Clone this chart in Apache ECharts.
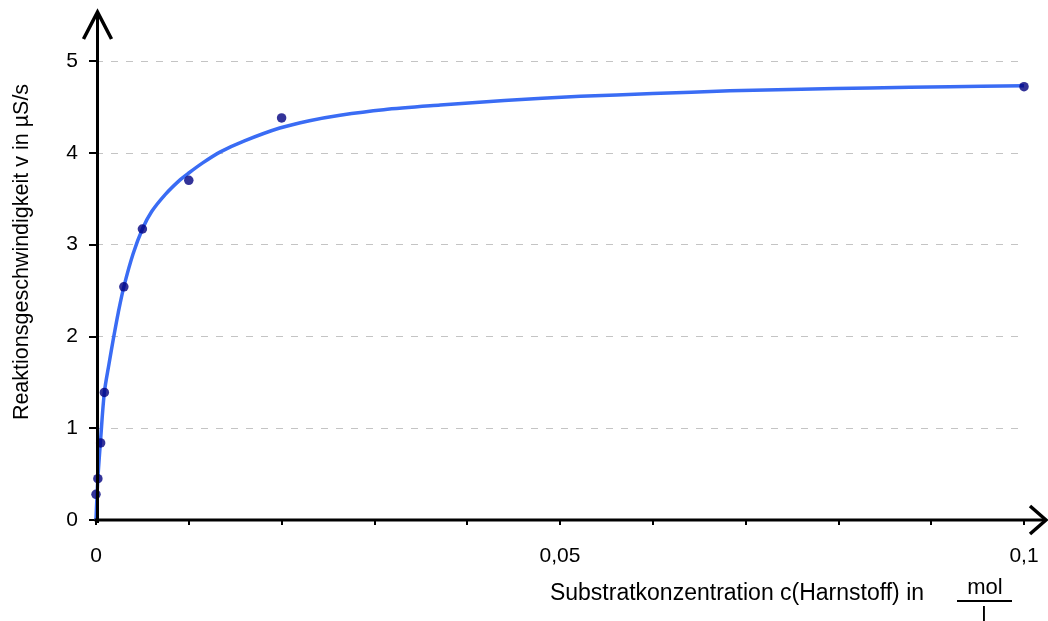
<!DOCTYPE html>
<html>
<head>
<meta charset="utf-8">
<title>Michaelis-Menten: Urease</title>
<script src="https://cdn.jsdelivr.net/npm/echarts@6/dist/echarts.min.js"></script>
<style>
  html, body { margin: 0; padding: 0; background: #fff; }
  #chart { width: 1048px; height: 621px; }
</style>
</head>
<body>
<div id="chart"></div>
<script>
// Measured substrate concentrations (mol/l) and reaction rates (µS/s)
const concentration = [0, 0.0002, 0.0005, 0.0009, 0.003, 0.005, 0.01, 0.02, 0.1];
const rate = [0.28, 0.45, 0.84, 1.39, 2.54, 3.17, 3.70, 4.38, 4.72];

// Saturation curve drawn through the measurements
const curveConc = [0, 0.0002, 0.0005, 0.0009, 0.0014, 0.0019, 0.0024, 0.003, 0.004, 0.005,
                   0.006, 0.0075, 0.009, 0.01, 0.0115, 0.0134, 0.016, 0.0198, 0.023, 0.0263,
                   0.031, 0.0371, 0.044, 0.0522, 0.06, 0.0683, 0.076, 0.0834, 0.092, 0.1];
const curveRate = [0, 0.45, 0.88, 1.39, 1.70, 1.99, 2.26, 2.54, 2.90, 3.17,
                   3.36, 3.55, 3.70, 3.78, 3.89, 4.01, 4.13, 4.27, 4.35, 4.41,
                   4.47, 4.52, 4.57, 4.615, 4.645, 4.675, 4.692, 4.707, 4.72, 4.73];

// Axis settings
const xMin = 0, xMax = 0.1, xStep = 0.01, xLabelStep = 0.05;
const yMin = 0, yMax = 5, yStep = 1;

const yTitle = 'Reaktionsgeschwindigkeit v in µS/s';
const xTitle = 'Substratkonzentration c(Harnstoff) in';
const unitTop = 'mol';
const unitBottom = 'l';

const FONT = '"Liberation Sans", Arial, Helvetica, sans-serif';

const chart = echarts.init(document.getElementById('chart'), null, { renderer: 'canvas' });

const option = {
  animation: false,
  backgroundColor: '#ffffff',
  grid: { left: 96, right: 24, top: 61, bottom: 101, containLabel: false },
  xAxis: {
    type: 'value',
    min: xMin, max: xMax, interval: xStep,
    axisLine: { show: false },
    axisTick: { show: true, inside: false, length: 5, lineStyle: { color: '#000', width: 2 } },
    splitLine: { show: false },
    axisLabel: {
      margin: 26,
      fontSize: 21,
      fontFamily: FONT,
      color: '#000',
      formatter: function (v) {
        const k = v / xLabelStep;
        if (Math.abs(k - Math.round(k)) > 1e-6) return '';
        return String(+v.toFixed(2)).replace('.', ',');
      }
    }
  },
  yAxis: {
    type: 'value',
    min: yMin, max: yMax, interval: yStep,
    axisLine: { show: false },
    axisTick: { show: true, inside: false, length: 7, lineStyle: { color: '#000', width: 2 } },
    splitLine: { show: true, lineStyle: { color: '#c4c4c4', width: 1, type: [7, 8] } },
    axisLabel: { margin: 18, fontSize: 21, fontFamily: FONT, color: '#000' }
  },
  series: [
    {
      name: 'Kurve',
      type: 'line',
      data: curveConc.map((c, i) => [c, curveRate[i]]),
      showSymbol: false,
      smooth: 0.3,
      lineStyle: { color: '#3a6cf4', width: 3.5 },
      z: 2
    },
    {
      name: 'Messwerte',
      type: 'scatter',
      data: concentration.map((c, i) => [c, rate[i]]),
      symbol: 'circle',
      symbolSize: 9.5,
      itemStyle: { color: '#000080' },
      z: 3
    }
  ]
};

chart.setOption(option);

// Axis lines with open arrow heads, extended past the plot area
const origin = chart.convertToPixel({ gridIndex: 0 }, [xMin, yMin]);
const ox = origin[0] + 1.5, oy = origin[1];
const yTop = 12, xEnd = 1046;
const axisStyle = { stroke: '#000', lineWidth: 3, lineCap: 'butt', lineJoin: 'miter' };

chart.setOption({
  graphic: [
    { type: 'line', z: 10, shape: { x1: ox, y1: oy + 3, x2: ox, y2: yTop + 1 }, style: axisStyle },
    { type: 'polyline', z: 10, shape: { points: [[ox - 14, yTop + 27], [ox, yTop], [ox + 14, yTop + 27]] },
      style: Object.assign({}, axisStyle, { lineWidth: 3.5, fill: null }) },
    { type: 'line', z: 10, shape: { x1: ox - 3, y1: oy, x2: xEnd - 1, y2: oy }, style: axisStyle },
    { type: 'polyline', z: 10, shape: { points: [[xEnd - 16, oy - 14], [xEnd, oy], [xEnd - 16, oy + 14]] },
      style: Object.assign({}, axisStyle, { lineWidth: 3.5, fill: null }) },
    { type: 'text', z: 10, x: 22, y: 252, rotation: Math.PI / 2,
      style: { text: yTitle, font: '21.5px ' + FONT, fill: '#000', align: 'center', verticalAlign: 'middle' } },
    { type: 'text', z: 10, x: 737, y: 594,
      style: { text: xTitle, font: '23px ' + FONT, fill: '#000', align: 'center', verticalAlign: 'middle' } },
    { type: 'text', z: 10, x: 985, y: 588,
      style: { text: unitTop, font: '22px ' + FONT, fill: '#000', align: 'center', verticalAlign: 'middle' } },
    { type: 'line', z: 10, shape: { x1: 957, y1: 601, x2: 1012, y2: 601 }, style: { stroke: '#000', lineWidth: 2 } },
    { type: 'text', z: 10, x: 984, y: 616,
      style: { text: unitBottom, font: '22px ' + FONT, fill: '#000', align: 'center', verticalAlign: 'middle' } }
  ]
});
</script>
</body>
</html>
